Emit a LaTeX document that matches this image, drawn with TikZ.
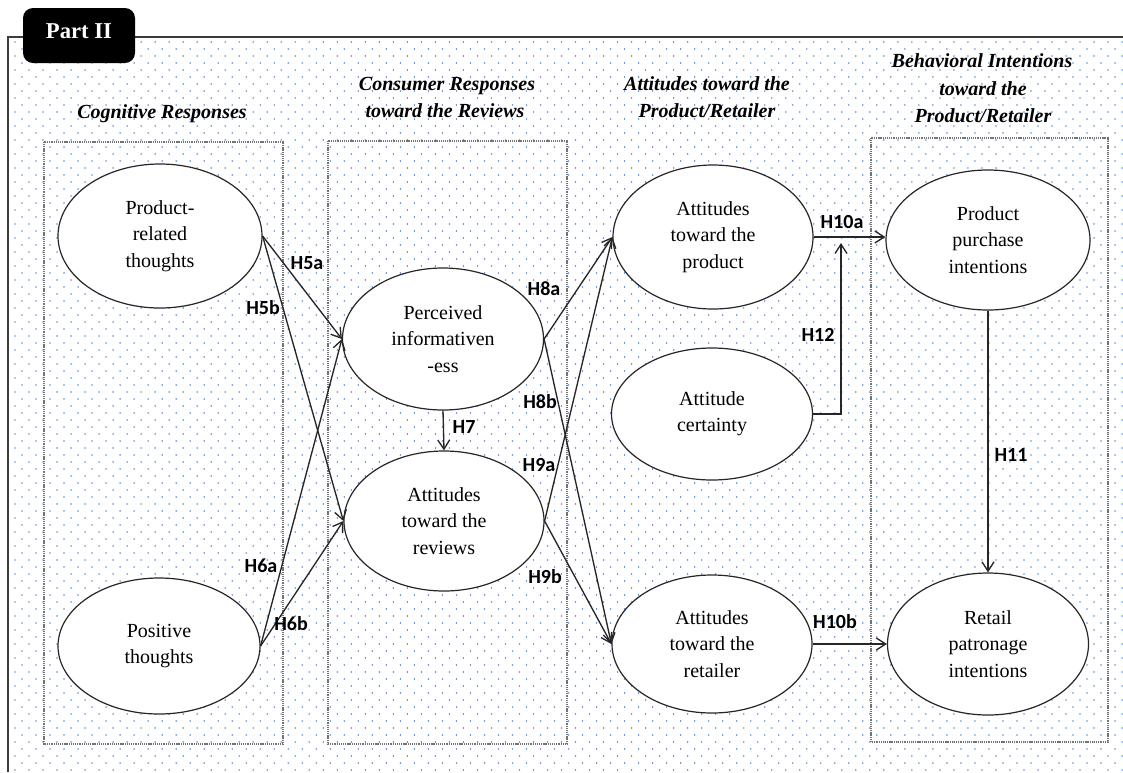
\documentclass[tikz,border=0pt]{standalone}
\usepackage{fontspec}
\setmainfont{Liberation Serif}
\newfontfamily\lblfont{Carlito}
\usetikzlibrary{shapes.geometric,arrows.meta}
\definecolor{dotblue}{RGB}{95,145,215}
\definecolor{framegray}{RGB}{60,60,60}

\begin{document}
\begin{tikzpicture}[x=0.75pt,y=-0.75pt,
  concept/.style={ellipse,draw=black!85,line width=0.9pt,fill=white,inner sep=0pt,
    align=center,font=\fontsize{15}{19.8}\selectfont},
  colbox/.style={draw=black!55,line width=0.9pt,dash pattern=on 0.8pt off 0.6pt},
  head/.style={font=\fontsize{15}{20}\selectfont\bfseries\itshape,anchor=base,inner sep=0pt},
  hyp/.style={font=\lblfont\fontsize{15}{18}\selectfont\bfseries,inner sep=0pt},
  arr/.style={line width=1pt,draw=black!85,-{Straight Barb[length=7pt,width=9pt]}},
  dotrow/.style={dotblue,line width=1.2pt,line cap=round,dash pattern=on 0.01pt off 10.5pt},
]
\useasboundingbox (0,0) rectangle (1123,772);

% dotted background: staggered rows of round dots
\foreach \r in {0,...,104}{
  \pgfmathsetmacro\xs{15+7*mod(\r,2)}
  \draw[dotrow] (\xs,{42+7*\r}) -- (1123,{42+7*\r});
}

% outer frame
\draw[framegray,line width=1.5pt] (8,772) -- (8,37) -- (1123,37);

% tab
\node[fill=black,rounded corners=7.5pt,minimum width=84pt,minimum height=41.25pt,
  text=white,font=\fontsize{17}{20}\selectfont\bfseries,text depth=6pt] (tab) at (79,35.5) {Part II};

% column headers
\node[head] (hcog)  at (162,118) {Cognitive Responses};
\node[head] (hcon1) at (447,90)  {Consumer Responses};
\node[head] (hcon2) at (445,117) {toward the Reviews};
\node[head] (hatt1) at (707,90)  {Attitudes toward the};
\node[head] (hatt2) at (707,117) {Product/Retailer};
\node[head] (hbeh1) at (982,67)  {Behavioral Intentions};
\node[head] (hbeh2) at (983,95)  {toward the};
\node[head] (hbeh3) at (983,122) {Product/Retailer};

% column boxes
\draw[colbox] (44,142) rectangle (283,744);
\draw[colbox] (328,141) rectangle (567,744);
\draw[colbox] (871,138) rectangle (1108,742);

% constructs
\node[concept,minimum width=153pt,minimum height=108pt]    (pr)     at (160,236) {Product-\\related\\thoughts};
\node[concept,minimum width=151.5pt,minimum height=102pt]  (pos)    at (159,646) {Positive\\thoughts};
\node[concept,minimum width=150.75pt,minimum height=106.5pt] (inf)  at (443,339) {Perceived\\informativen\\-ess};
\node[concept,minimum width=150pt,minimum height=105pt]    (rev)    at (444,521) {Attitudes\\toward the\\reviews};
\node[concept,minimum width=150pt,minimum height=108pt]    (prod)   at (713,237) {Attitudes\\toward the\\product};
\node[concept,minimum width=150.75pt,minimum height=99pt]  (cert)   at (712,414) {Attitude\\certainty};
\node[concept,minimum width=150pt,minimum height=103.5pt]  (ret)    at (712,644) {Attitudes\\toward the\\retailer};
\node[concept,minimum width=153pt,minimum height=105pt]    (purch)  at (988,240) {Product\\purchase\\intentions};
\node[concept,minimum width=150.75pt,minimum height=106.5pt] (retail) at (988,644) {Retail\\patronage\\intentions};

% hypothesised paths
\draw[arr] (pr.east) -- (inf.west);
\draw[arr] (pr.east) -- (rev.west);
\draw[arr] (pos.east) -- (inf.west);
\draw[arr] (pos.east) -- (rev.west);
\draw[arr] (inf.south) -- (rev.north);
\draw[arr] (inf.east) -- (prod.west);
\draw[arr] (inf.east) -- (ret.west);
\draw[arr] (rev.east) -- (prod.west);
\draw[arr] (rev.east) -- (ret.west);
\draw[arr] (prod.east) -- (purch.west |- prod.east);
\coordinate (j12) at (841,243);
\draw[arr] (cert.east) -| (j12);
\draw[arr] (ret.east) -- (retail.west);
\draw[arr] (purch.south) -- (retail.north);

% path labels
\node[hyp] (l5a)  at (307,263) {H5a};
\node[hyp] (l5b)  at (263,308) {H5b};
\node[hyp] (l6a)  at (261,566) {H6a};
\node[hyp] (l6b)  at (291,624) {H6b};
\node[hyp] (l7)   at (464,427) {H7};
\node[hyp] (l8a)  at (544,289) {H8a};
\node[hyp] (l8b)  at (540,402) {H8b};
\node[hyp] (l9a)  at (539,465) {H9a};
\node[hyp] (l9b)  at (545,577) {H9b};
\node[hyp] (l10a) at (842,222) {H10a};
\node[hyp] (l10b) at (835,622) {H10b};
\node[hyp] (l11)  at (1011,455) {H11};
\node[hyp] (l12)  at (818,335) {H12};
\end{tikzpicture}
\end{document}
